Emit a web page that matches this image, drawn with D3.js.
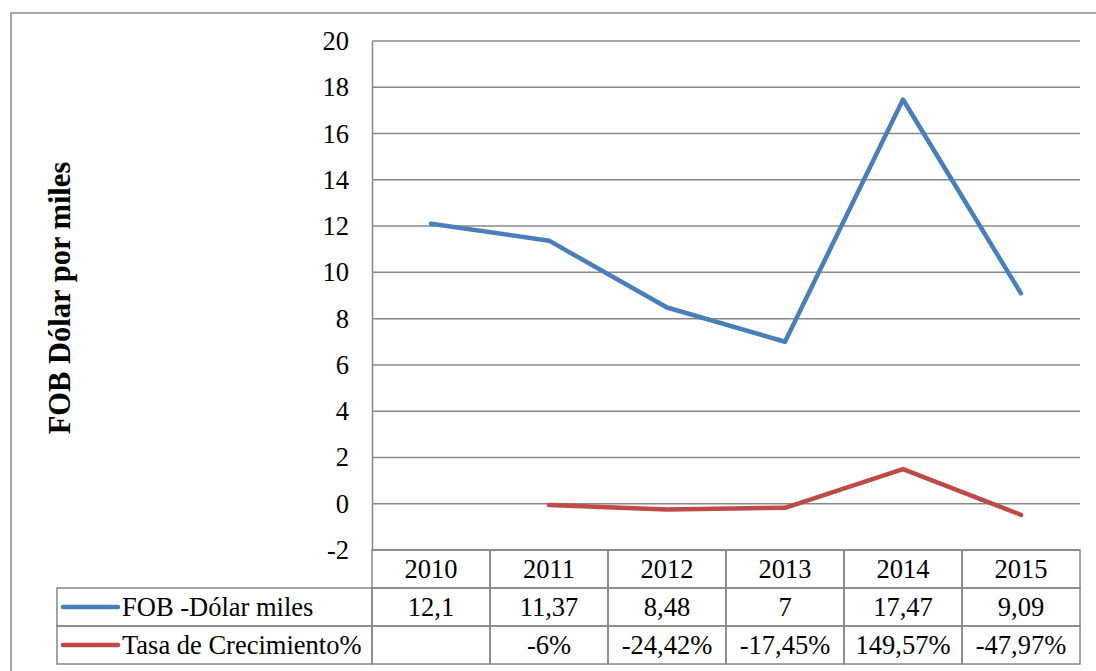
<!DOCTYPE html>
<html>
<head>
<meta charset="utf-8">
<script src="https://cdn.jsdelivr.net/npm/d3@7/dist/d3.min.js"></script>
<style>
  html, body { margin: 0; padding: 0; background: #fff; }
  svg text { font-family: "Liberation Serif", "Times New Roman", "DejaVu Serif", serif; }
</style>
</head>
<body>
<div id="chart"></div>
<script>
(function() {
    const COLORS = {
        grid: "#878787",
        fob: "#4a7ebb",
        tasa: "#be4b48",
        ink: "#000000"
    };
    const FONT = "'Liberation Serif', 'Times New Roman', serif";
    const FS = 26.5;

    // Data
    const years = ["2010", "2011", "2012", "2013", "2014", "2015"];
    const fobValues = [12.1, 11.37, 8.48, 7, 17.47, 9.09];
    const tasaValues = [null, -0.06, -0.2442, -0.1745, 1.4957, -0.4797];
    const yTicks = [-2, 0, 2, 4, 6, 8, 10, 12, 14, 16, 18, 20];
    const seriesNames = ["FOB -Dólar miles", "Tasa de Crecimiento%"];

    const W = 1096, H = 671;
    const plot = { left: 372, right: 1080, top: 41, bottom: 550 };
    const rowH = 38;

    const locale = d3.formatLocale({
        decimal: ",", thousands: ".", grouping: [3], currency: ["", ""], minus: "-"
    });
    const fmtTick = locale.format("d");
    const fmtFob = locale.format("~g");
    const fmtTasa = locale.format(".2~%");

    const svg = d3.select("#chart").append("svg")
        .attr("width", W)
        .attr("height", H)
        .attr("viewBox", `0 0 ${W} ${H}`)
        .style("display", "block");

    // outer chart frame (runs off the right and bottom edges)
    svg.append("rect")
        .attr("x", 11).attr("y", 13)
        .attr("width", 1200).attr("height", 800)
        .attr("fill", "none")
        .attr("stroke", COLORS.grid)
        .attr("stroke-width", 1.5);

    const x = d3.scaleBand()
        .domain(years)
        .range([plot.left, plot.right]);

    const y = d3.scaleLinear()
        .domain([-2, 20])
        .range([plot.bottom, plot.top]);

    // gridlines
    svg.append("g")
        .selectAll("line")
        .data(yTicks)
        .join("line")
        .attr("x1", plot.left).attr("x2", plot.right)
        .attr("y1", d => y(d)).attr("y2", d => y(d))
        .attr("stroke", COLORS.grid)
        .attr("stroke-width", 1.5);

    // y axis
    const yAxis = svg.append("g")
        .attr("transform", `translate(${plot.left},0)`)
        .call(d3.axisLeft(y).tickValues(yTicks).tickSize(0).tickPadding(23).tickFormat(fmtTick))
        .attr("font-family", FONT)
        .attr("font-size", FS);
    yAxis.select(".domain")
        .attr("stroke", COLORS.grid)
        .attr("stroke-width", 1.5);
    yAxis.selectAll("text")
        .attr("fill", COLORS.ink);

    // y axis title
    svg.append("text")
        .attr("transform", "translate(70,298) rotate(-90)")
        .attr("text-anchor", "middle")
        .attr("font-family", FONT)
        .attr("font-size", 30.5)
        .attr("font-weight", "bold")
        .attr("fill", COLORS.ink)
        .text("FOB Dólar por miles");

    // lines
    const line = d3.line()
        .defined(d => d.v !== null)
        .x(d => x(d.year) + x.bandwidth() / 2)
        .y(d => y(d.v));

    const series = [
        { name: seriesNames[0], color: COLORS.fob, values: years.map((yr, i) => ({ year: yr, v: fobValues[i] })) },
        { name: seriesNames[1], color: COLORS.tasa, values: years.map((yr, i) => ({ year: yr, v: tasaValues[i] })) }
    ];

    svg.append("g")
        .selectAll("path")
        .data(series)
        .join("path")
        .attr("fill", "none")
        .attr("stroke", d => d.color)
        .attr("stroke-width", 4.5)
        .attr("stroke-linejoin", "round")
        .attr("stroke-linecap", "round")
        .attr("d", d => line(d.values));

    // data table
    const table = svg.append("g")
        .attr("font-family", FONT)
        .attr("font-size", FS);
    const legendLeft = 57;
    const row1 = plot.bottom, row2 = row1 + rowH, row3 = row2 + rowH;

    // header cells (years)
    table.selectAll("rect.head")
        .data(years)
        .join("rect")
        .attr("class", "head")
        .attr("x", d => x(d)).attr("y", row1)
        .attr("width", x.bandwidth()).attr("height", rowH)
        .attr("fill", "none")
        .attr("stroke", COLORS.grid).attr("stroke-width", 1.5);

    table.selectAll("text.head")
        .data(years)
        .join("text")
        .attr("class", "head")
        .attr("x", d => x(d) + x.bandwidth() / 2)
        .attr("y", row1 + rowH / 2 + 9)
        .attr("text-anchor", "middle")
        .text(d => d);

    const rows = [
        { top: row2, s: series[0], labels: fobValues.map(v => fmtFob(v)) },
        { top: row3, s: series[1], labels: tasaValues.map(v => v === null ? "" : fmtTasa(v)) }
    ];

    rows.forEach(r => {
        // legend cell
        table.append("rect")
            .attr("x", legendLeft).attr("y", r.top)
            .attr("width", plot.left - legendLeft).attr("height", rowH)
            .attr("fill", "none")
            .attr("stroke", COLORS.grid).attr("stroke-width", 1.5);
        table.append("line")
            .attr("x1", legendLeft + 6).attr("x2", legendLeft + 61)
            .attr("y1", r.top + rowH / 2).attr("y2", r.top + rowH / 2)
            .attr("stroke", r.s.color)
            .attr("stroke-width", 4.5)
            .attr("stroke-linecap", "round");
        table.append("text")
            .attr("x", legendLeft + 65)
            .attr("y", r.top + rowH / 2 + 9)
            .text(r.s.name);

        // value cells
        table.selectAll(null)
            .data(years)
            .join("rect")
            .attr("x", d => x(d)).attr("y", r.top)
            .attr("width", x.bandwidth()).attr("height", rowH)
            .attr("fill", "none")
            .attr("stroke", COLORS.grid).attr("stroke-width", 1.5);
        table.selectAll(null)
            .data(years)
            .join("text")
            .attr("x", d => x(d) + x.bandwidth() / 2)
            .attr("y", r.top + rowH / 2 + 9)
            .attr("text-anchor", "middle")
            .text((d, i) => r.labels[i]);
    });
})();
</script>
</body>
</html>
